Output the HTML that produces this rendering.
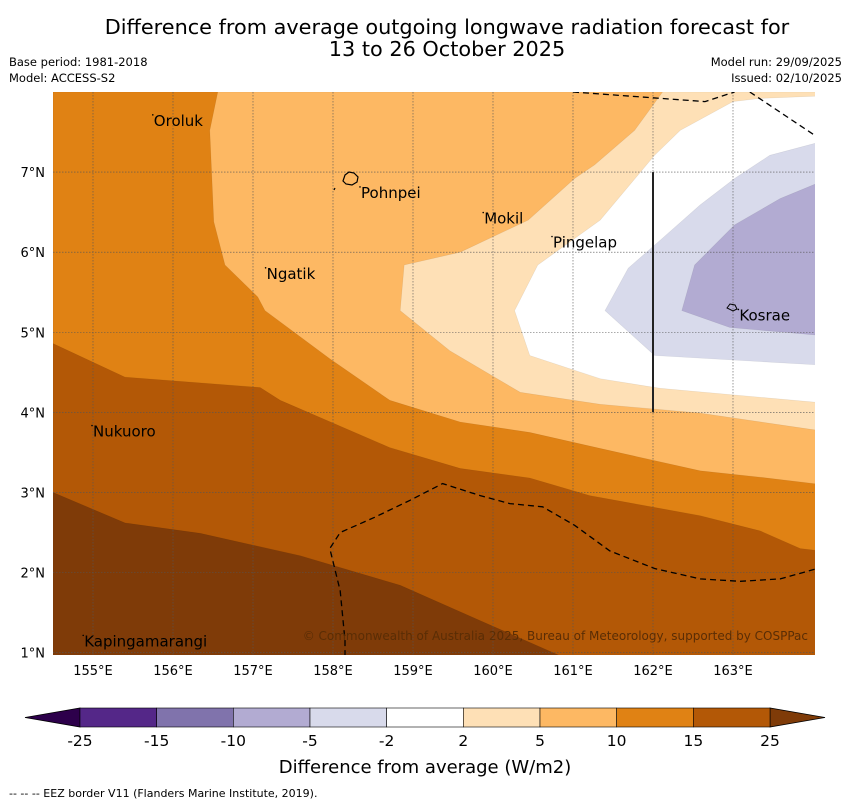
<!DOCTYPE html>
<html><head><meta charset="utf-8"><style>
body{margin:0;background:#fff;}
svg{display:block;font-family:"DejaVu Sans","Liberation Sans",sans-serif;}
</style></head><body>
<svg id="chart" width="850" height="804" viewBox="0 0 850 804" xmlns="http://www.w3.org/2000/svg">
<text x="447" y="34" font-size="20.8" text-anchor="middle">Difference from average outgoing longwave radiation forecast for</text>
<text x="447" y="56" font-size="20.8" text-anchor="middle">13 to 26 October 2025</text>
<text x="9" y="66" font-size="11.5">Base period: 1981-2018</text>
<text x="9" y="82" font-size="11.5">Model: ACCESS-S2</text>
<text x="842" y="66" font-size="11.5" text-anchor="end">Model run: 29/09/2025</text>
<text x="842" y="82" font-size="11.5" text-anchor="end">Issued: 02/10/2025</text>
<defs><clipPath id="plotclip"><rect x="53" y="92" width="762" height="563"/></clipPath></defs>
<g id="plot" clip-path="url(#plotclip)"></g>
<g id="overlay"></g>
<g id="cbar"></g>
<text x="425" y="773" font-size="18" text-anchor="middle">Difference from average (W/m2)</text>
<text x="9" y="797" font-size="11">--  --  -- EEZ border V11 (Flanders Marine Institute, 2019).</text>
</svg>
<script>
// axis extents
const lonMin=154.5, lonMax=164.025, latMin=0.97, latMax=8.0;
const lonTicks=[155,156,157,158,159,160,161,162,163];
const latTicks=[1,2,3,4,5,6,7];
// contour regions (lon,lat)
const band10to15=[[154.5,8.0],[164.1,8.0],[164.1,0.9],[154.5,0.9]];
const band15to25=[[154.5,4.86],[155.4,4.44],[157.09,4.31],[157.34,4.15],[158.71,3.56],[159.59,3.3],[160.46,3.18],[161.21,2.96],[162.59,2.71],[163.34,2.52],[163.84,2.3],[164.1,2.27],[164.1,0.9],[154.5,0.9]];
const bandAbove25=[[154.5,3.0],[155.4,2.62],[156.34,2.49],[157.59,2.21],[158.84,1.84],[159.84,1.4],[160.84,0.96],[160.9,0.9],[154.5,0.9]];
const band5to10=[[156.56,8.0],[156.46,7.52],[156.51,6.38],[156.65,5.84],[157.06,5.44],[157.15,5.27],[157.96,4.67],[158.71,4.15],[159.59,3.88],[160.46,3.75],[161.34,3.55],[162.59,3.27],[163.34,3.19],[164.1,3.1],[164.1,8.0]];
const band2to5=[[162.12,8.0],[161.77,7.52],[161.27,7.09],[161.02,6.92],[160.44,6.4],[159.59,6.0],[158.89,5.84],[158.84,5.27],[159.46,4.77],[160.34,4.25],[161.34,4.1],[162.59,3.99],[164.1,3.77],[164.1,8.0]];
const bandNeutral=[[163.0,7.88],[162.34,7.52],[162.02,7.21],[161.34,6.4],[160.56,5.84],[160.27,5.27],[160.46,4.71],[161.34,4.42],[162.09,4.3],[164.1,4.12],[164.1,7.95],[163.34,7.92]];
const bandMinus2to5=[[164.1,7.38],[163.46,7.21],[163.02,6.92],[162.59,6.59],[162.09,6.15],[161.69,5.8],[161.4,5.27],[162.02,4.71],[164.1,4.59]];
const bandMinus5to10=[[164.1,6.88],[163.59,6.67],[163.02,6.34],[162.52,5.84],[162.36,5.27],[162.96,5.06],[164.1,4.96]];
const eezTopA=[[161.0,8.0],[162.65,7.88],[163.02,8.0]];
const eezTopB=[[163.21,8.0],[164.02,7.46]];
const eezSouth=[[164.02,2.04],[163.59,1.92],[163.09,1.89],[162.59,1.92],[162.02,2.05],[161.46,2.27],[161.02,2.59],[160.62,2.82],[160.21,2.86],[159.84,2.96],[159.37,3.11],[158.96,2.9],[158.52,2.69],[158.09,2.5],[157.96,2.3],[158.09,1.77],[158.15,1.15],[158.15,0.96]];
const boundaryLine=[[162.0,7.0],[162.0,4.0]];
const placeNames=["Oroluk","Pohnpei","Mokil","Pingelap","Ngatik","Kosrae","Nukuoro","Kapingamarangi"];
const placeLon=[155.76,158.35,159.89,160.75,157.17,163.08,155.0,154.89];
const placeLat=[7.64,6.74,6.42,6.12,5.73,5.21,3.76,1.14];
const cbarBounds=["-25","-15","-10","-5","-2","2","5","10","15","25"];
const cbarColors=["#542788","#8073ac","#b2abd2","#d8daeb","#ffffff","#fee0b6","#fdb863","#e08214","#b35806"];
const NS="http://www.w3.org/2000/svg";
const X0=53,X1=815,Y0=92,Y1=655;
const xs=lon=>X0+(lon-lonMin)/(lonMax-lonMin)*(X1-X0);
const ys=lat=>Y0+(latMax-lat)/(latMax-latMin)*(Y1-Y0);
const pts=a=>a.map(p=>xs(p[0]).toFixed(1)+","+ys(p[1]).toFixed(1)).join(" ");
const plot=document.getElementById('plot');
function mk(tag,attrs,parent){const e=document.createElementNS(NS,tag);for(const k in attrs)e.setAttribute(k,attrs[k]);parent.appendChild(e);return e;}
const layers=[[band10to15,"#e08214","band-10-15"],[band15to25,"#b35806","band-15-25"],[bandAbove25,"#7f3b08","band-above-25"],[band5to10,"#fdb863","band-5-10"],[band2to5,"#fee0b6","band-2-5"],[bandNeutral,"#ffffff","band-neutral"],[bandMinus2to5,"#d8daeb","band-minus-2-5"],[bandMinus5to10,"#b2abd2","band-minus-5-10"]];
layers.forEach(l=>{const e=mk('polygon',{points:pts(l[0]),fill:l[1],stroke:"rgba(0,0,0,0.08)","stroke-width":0.6},plot);

});
lonTicks.forEach(v=>{const e=mk('line',{x1:xs(v),x2:xs(v),y1:Y0,y2:Y1,stroke:"#555","stroke-width":0.6,"stroke-dasharray":"1.5,1.5"},plot);

});
latTicks.forEach(v=>{const e=mk('line',{x1:X0,x2:X1,y1:ys(v),y2:ys(v),stroke:"#555","stroke-width":0.6,"stroke-dasharray":"1.5,1.5"},plot);

});
[eezTopA,eezTopB,eezSouth].forEach(a=>{const e=mk('polyline',{points:pts(a),fill:"none",stroke:"#000","stroke-width":1.3,"stroke-dasharray":"6,4"},plot);

});
const bl=mk('polyline',{points:pts(boundaryLine),fill:"none",stroke:"#222","stroke-width":2},plot);


// islands
const pohn=mk('path',{d:"M343,181 l2,-6 l4,-3 l5,1 l4,4 l-1,5 l-5,3 l-6,-1 z M334,190 l1,-2",fill:"none",stroke:"#000","stroke-width":1.2},plot);


const kos=mk('path',{d:"M727,308 l3,-4 l5,1 l2,4 l-4,2 z",fill:"none",stroke:"#000","stroke-width":1},plot);


placeNames.forEach((n,i)=>{const t=mk('text',{x:xs(placeLon[i]),y:ys(placeLat[i])+5,"font-size":15},plot);t.textContent=n;


const d=mk('circle',{cx:xs(placeLon[i])-1,cy:ys(placeLat[i])-6,r:0.8,fill:"#000"},plot);

});
const cp=mk('text',{x:808,y:640,"font-size":12,"text-anchor":"end",fill:"#5a2d05"},plot);cp.textContent="© Commonwealth of Australia 2025, Bureau of Meteorology, supported by COSPPac";


const ov=document.getElementById('overlay');
lonTicks.forEach(v=>{const t=mk('text',{x:xs(v),y:675,"font-size":13,"text-anchor":"middle"},ov);t.textContent=v+"°E";

});
latTicks.forEach(v=>{const t=mk('text',{x:45,y:ys(v)+5,"font-size":13,"text-anchor":"end"},ov);t.textContent=v+"°N";

});
// colorbar
const cb=document.getElementById('cbar');
const cx0=80,cx1=770,cy0=708,cy1=727,w=(cx1-cx0)/cbarColors.length;
const lt=mk('polygon',{points:`25,717.5 ${cx0},${cy0} ${cx0},${cy1}`,fill:"#2d004b",stroke:"#000","stroke-width":0.8},cb);


const rt=mk('polygon',{points:`825,717.5 ${cx1},${cy0} ${cx1},${cy1}`,fill:"#7f3b08",stroke:"#000","stroke-width":0.8},cb);


cbarColors.forEach((c,i)=>{const r=mk('rect',{x:cx0+i*w,y:cy0,width:w,height:cy1-cy0,fill:c,stroke:"#000","stroke-width":0.6},cb);

});
cbarBounds.forEach((b,i)=>{const t=mk('text',{x:cx0+i*w,y:746,"font-size":15.5,"text-anchor":"middle"},cb);t.textContent=b;

});
</script>
</body></html>
